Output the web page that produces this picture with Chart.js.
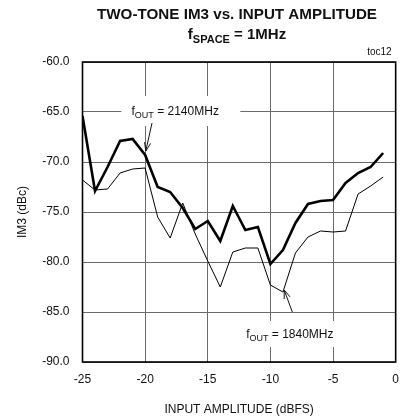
<!DOCTYPE html>
<html>
<head>
<meta charset="utf-8">
<script src="https://cdn.jsdelivr.net/npm/chart.js@4.4.0/dist/chart.umd.min.js"></script>
<style>
  html, body { margin: 0; padding: 0; background: #fff; }
  #wrap { width: 409px; height: 417px; }
</style>
</head>
<body>
<div id="wrap"><canvas id="graph" width="409" height="417"></canvas></div>
<script>
// input amplitude (dBFS)
const inputAmp = [-25, -24, -23, -22, -21, -20, -19, -18, -17, -16, -15, -14, -13,
                  -12, -11, -10, -9, -8, -7, -6, -5, -4, -3, -2, -1];
// IM3 (dBc), fOUT = 2140MHz (thick)
const im3At2140 = [-65.4, -72.9, -70.5, -67.9, -67.7, -69.3, -72.5, -73.0, -74.6, -76.7,
                   -75.9, -77.9, -74.4, -76.8, -76.5, -80.2, -78.8, -76.1, -74.2, -73.9,
                   -73.8, -72.1, -71.1, -70.5, -69.1];
// IM3 (dBc), fOUT = 1840MHz (thin)
const im3At1840 = [-71.8, -72.8, -72.7, -71.1, -70.7, -70.6, -75.5, -77.6, -74.1, -77.2,
                   -79.9, -82.5, -79.0, -78.6, -78.6, -82.3, -83.0, -79.1, -77.5, -76.9,
                   -77.0, -76.9, -73.2, -72.4, -71.5];

const xTicks = [-25, -20, -15, -10, -5, 0];
const yTicks = [-90, -85, -80, -75, -70, -65, -60];

// callouts, in data units: text centre, blank box, arrow from -> to
const callouts = [
  { sub: 'OUT', rest: ' = 2140MHz', at: [-17.6, -65.0], box: [-21.9, -63.4, -12.4, -66.4],
    from: [-19.45, -66.1], to: [-19.95, -68.9] },
  { sub: 'OUT', rest: ' = 1840MHz', at: [-8.45, -87.3], box: [-12.6, -85.9, -4.3, -88.5],
    from: [-8.25, -85.0], to: [-8.9, -82.8] },
];

const FONT = '"Liberation Sans", Arial, sans-serif';

function toPts(ys) {
  return inputAmp.map((x, i) => ({ x: x, y: ys[i] }));
}

function drawSubText(ctx, cx, cy, base, sub, rest, size, bold) {
  const w = bold ? 'bold ' : '';
  const subSize = Math.round(size * 0.72);
  ctx.font = w + size + 'px ' + FONT;
  const w1 = ctx.measureText(base).width;
  const w3 = ctx.measureText(rest).width;
  ctx.font = w + subSize + 'px ' + FONT;
  const w2 = ctx.measureText(sub).width;
  let x = cx - (w1 + w2 + w3) / 2;
  ctx.textAlign = 'left';
  ctx.textBaseline = 'middle';
  ctx.font = w + size + 'px ' + FONT;
  ctx.fillText(base, x, cy);
  x += w1;
  ctx.font = w + subSize + 'px ' + FONT;
  ctx.fillText(sub, x, cy + size * 0.33);
  x += w2;
  ctx.font = w + size + 'px ' + FONT;
  ctx.fillText(rest, x, cy);
}

function arrow(ctx, x1, y1, x2, y2) {
  const a = Math.atan2(y2 - y1, x2 - x1);
  const len = 9, spread = 0.35;
  ctx.beginPath();
  ctx.moveTo(x1, y1);
  ctx.lineTo(x2, y2);
  ctx.moveTo(x2 - len * Math.cos(a - spread), y2 - len * Math.sin(a - spread));
  ctx.lineTo(x2, y2);
  ctx.lineTo(x2 - len * Math.cos(a + spread), y2 - len * Math.sin(a + spread));
  ctx.stroke();
}

const decorations = {
  id: 'decorations',
  afterDatasetsDraw(chart) {
    const ctx = chart.ctx;
    const xs = chart.scales.x, ys = chart.scales.y;
    ctx.save();
    ctx.strokeStyle = '#111';
    ctx.lineWidth = 1;
    callouts.forEach(c => {
      const bx1 = xs.getPixelForValue(c.box[0]), by1 = ys.getPixelForValue(c.box[1]);
      const bx2 = xs.getPixelForValue(c.box[2]), by2 = ys.getPixelForValue(c.box[3]);
      ctx.fillStyle = '#fff';
      ctx.fillRect(bx1, by1, bx2 - bx1, by2 - by1);
      ctx.fillStyle = '#111';
      drawSubText(ctx, xs.getPixelForValue(c.at[0]), ys.getPixelForValue(c.at[1]),
                  'f', c.sub, c.rest, 12, false);
      arrow(ctx, xs.getPixelForValue(c.from[0]), ys.getPixelForValue(c.from[1]),
            xs.getPixelForValue(c.to[0]), ys.getPixelForValue(c.to[1]));
    });
    ctx.restore();
  },
  afterDraw(chart) {
    const ctx = chart.ctx;
    const area = chart.chartArea;
    ctx.save();
    ctx.fillStyle = '#111';
    // heading
    const mid = 237;
    ctx.font = 'bold 15px ' + FONT;
    ctx.textAlign = 'center';
    ctx.textBaseline = 'middle';
    const t = 'TWO-TONE IM3 vs. INPUT AMPLITUDE';
    const tw = ctx.measureText(t).width;
    ctx.save();
    ctx.translate(mid, 15);
    ctx.scale(280 / tw, 1);
    ctx.fillText(t, 0, 0);
    ctx.restore();
    drawSubText(ctx, mid, 35, 'f', 'SPACE', ' = 1MHz', 15, true);
    ctx.font = '10px ' + FONT;
    ctx.textAlign = 'right';
    ctx.textBaseline = 'middle';
    ctx.fillText('toc12', area.right - 4, 52);
    // frame
    ctx.strokeStyle = '#000';
    ctx.lineWidth = 1.6;
    ctx.strokeRect(area.left, area.top, area.right - area.left, area.bottom - area.top);
    ctx.restore();
  }
};

new Chart(document.getElementById('graph'), {
  type: 'line',
  data: {
    datasets: [
      {
        label: 'fOUT = 2140MHz',
        data: toPts(im3At2140),
        borderColor: '#000',
        borderWidth: 2.6,
        pointRadius: 0,
        tension: 0,
      },
      {
        label: 'fOUT = 1840MHz',
        data: toPts(im3At1840),
        borderColor: '#000',
        borderWidth: 1,
        pointRadius: 0,
        tension: 0,
      },
    ],
  },
  options: {
    responsive: false,
    animation: false,
    layout: { padding: { top: 62, right: 10, left: 0, bottom: 0 } },
    plugins: {
      legend: { display: false },
      tooltip: { enabled: false },
    },
    scales: {
      x: {
        type: 'linear',
        min: -25,
        max: 0,
        afterBuildTicks: s => { s.ticks = xTicks.map(v => ({ value: v })); },
        afterFit: s => { s.height = 55; },
        grid: { color: '#6a6a6a', lineWidth: 1, drawTicks: false },
        border: { display: false },
        ticks: { color: '#111', font: { family: FONT, size: 12 }, padding: 10 },
        title: {
          display: true,
          text: 'INPUT AMPLITUDE (dBFS)',
          color: '#111',
          font: { family: FONT, size: 12 },
          padding: { top: 8, bottom: 0 },
        },
      },
      y: {
        min: -90,
        max: -60,
        afterBuildTicks: s => { s.ticks = yTicks.map(v => ({ value: v })); },
        afterFit: s => { s.width = 82.5; },
        grid: { color: '#6a6a6a', lineWidth: 1, drawTicks: false },
        border: { display: false },
        ticks: {
          color: '#111',
          font: { family: FONT, size: 12 },
          padding: 13,
          callback: v => v.toFixed(1),
        },
        title: {
          display: true,
          text: 'IM3 (dBc)',
          color: '#111',
          font: { family: FONT, size: 12 },
          padding: { top: 15, bottom: 0 },
        },
      },
    },
  },
  plugins: [decorations],
});
</script>
</body>
</html>
